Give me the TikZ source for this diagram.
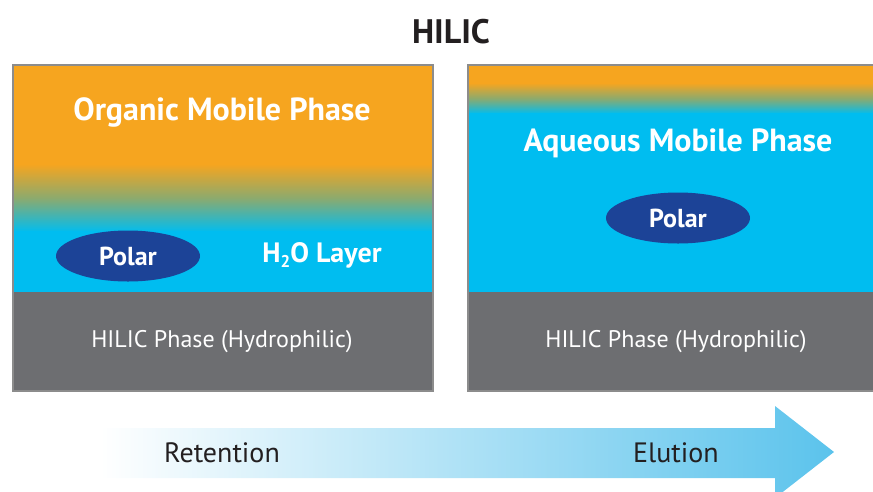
\documentclass[tikz,border=0pt]{standalone}
\usepackage{fontspec}
\setmainfont{PT Sans}
\usetikzlibrary{shapes.geometric}
\definecolor{orng}{HTML}{F6A51F}
\definecolor{aqua}{HTML}{00BDF0}
\definecolor{slab}{HTML}{6D6E71}
\definecolor{polarblue}{HTML}{1C4397}
\definecolor{edgegray}{HTML}{8C8C8C}
\definecolor{arrowblue}{HTML}{5BC3EC}
\definecolor{ink}{HTML}{231F20}
\begin{document}
\begin{tikzpicture}[x=1pt,y=-1pt,
  bigtxt/.style={text=white,font=\bfseries\fontsize{32}{34}\selectfont,inner sep=0},
  phasetxt/.style={text=white,font=\fontsize{24}{26}\selectfont,inner sep=0},
  polarnode/.style={ellipse,fill=polarblue,minimum width=144,minimum height=51,inner sep=0,
     text=white,font=\bfseries\fontsize{26}{28}\selectfont},
  flowtxt/.style={text=ink,font=\fontsize{28}{30}\selectfont,inner sep=0},
  panelframe/.style={draw=edgegray,line width=1.4}]
\useasboundingbox (0,0) rectangle (873,491);
\begin{scope}
\clip (0,0) rectangle (873,491);
% title
\node[text=ink,font=\bfseries\fontsize{34}{36}\selectfont,inner sep=0] (title) at (451,32) {HILIC};
% ---- left panel
\fill[orng] (13,65) rectangle (433,165);
\shade[top color=orng,bottom color=aqua,middle color={rgb,255:red,140;green,170;blue,110}] (13,164) rectangle (433,232);
\fill[aqua] (13,231) rectangle (433,292);
\fill[slab] (13,292) rectangle (433,391);
\draw[panelframe] (13,65) rectangle (433,391);
\node[bigtxt] (organic) at (222,112) {Organic Mobile Phase};
\node[polarnode] (polarL) at (128,256) {Polar};
\node[bigtxt,font=\bfseries\fontsize{28}{30}\selectfont] (water) at (322,255) {H\raisebox{-0.35ex}{\fontsize{17}{17}\selectfont 2}O Layer};
\node[phasetxt] (hilicL) at (222,342) {HILIC Phase (Hydrophilic)};
% ---- right panel
\fill[orng] (468,65) rectangle (880,84);
\shade[top color=orng,bottom color=aqua,middle color={rgb,255:red,140;green,170;blue,110}] (468,83) rectangle (880,114);
\fill[aqua] (468,113) rectangle (880,292);
\fill[slab] (468,292) rectangle (880,391);
\draw[panelframe] (468,65) rectangle (880,391);
\node[bigtxt] (aqueous) at (678,143) {Aqueous Mobile Phase};
\node[polarnode] (polarR) at (678,218) {Polar};
\node[phasetxt] (hilicR) at (676,342) {HILIC Phase (Hydrophilic)};
% ---- arrow
\shade[left color=white,right color=arrowblue]
  (100,428) -- (775,428) -- (775,406) -- (834,452) -- (775,498) -- (775,478) -- (100,478) -- cycle;
\node[flowtxt] (retention) at (222,453) {Retention};
\node[flowtxt] (elution) at (676,453) {Elution};
\end{scope}
\end{tikzpicture}
\end{document}
